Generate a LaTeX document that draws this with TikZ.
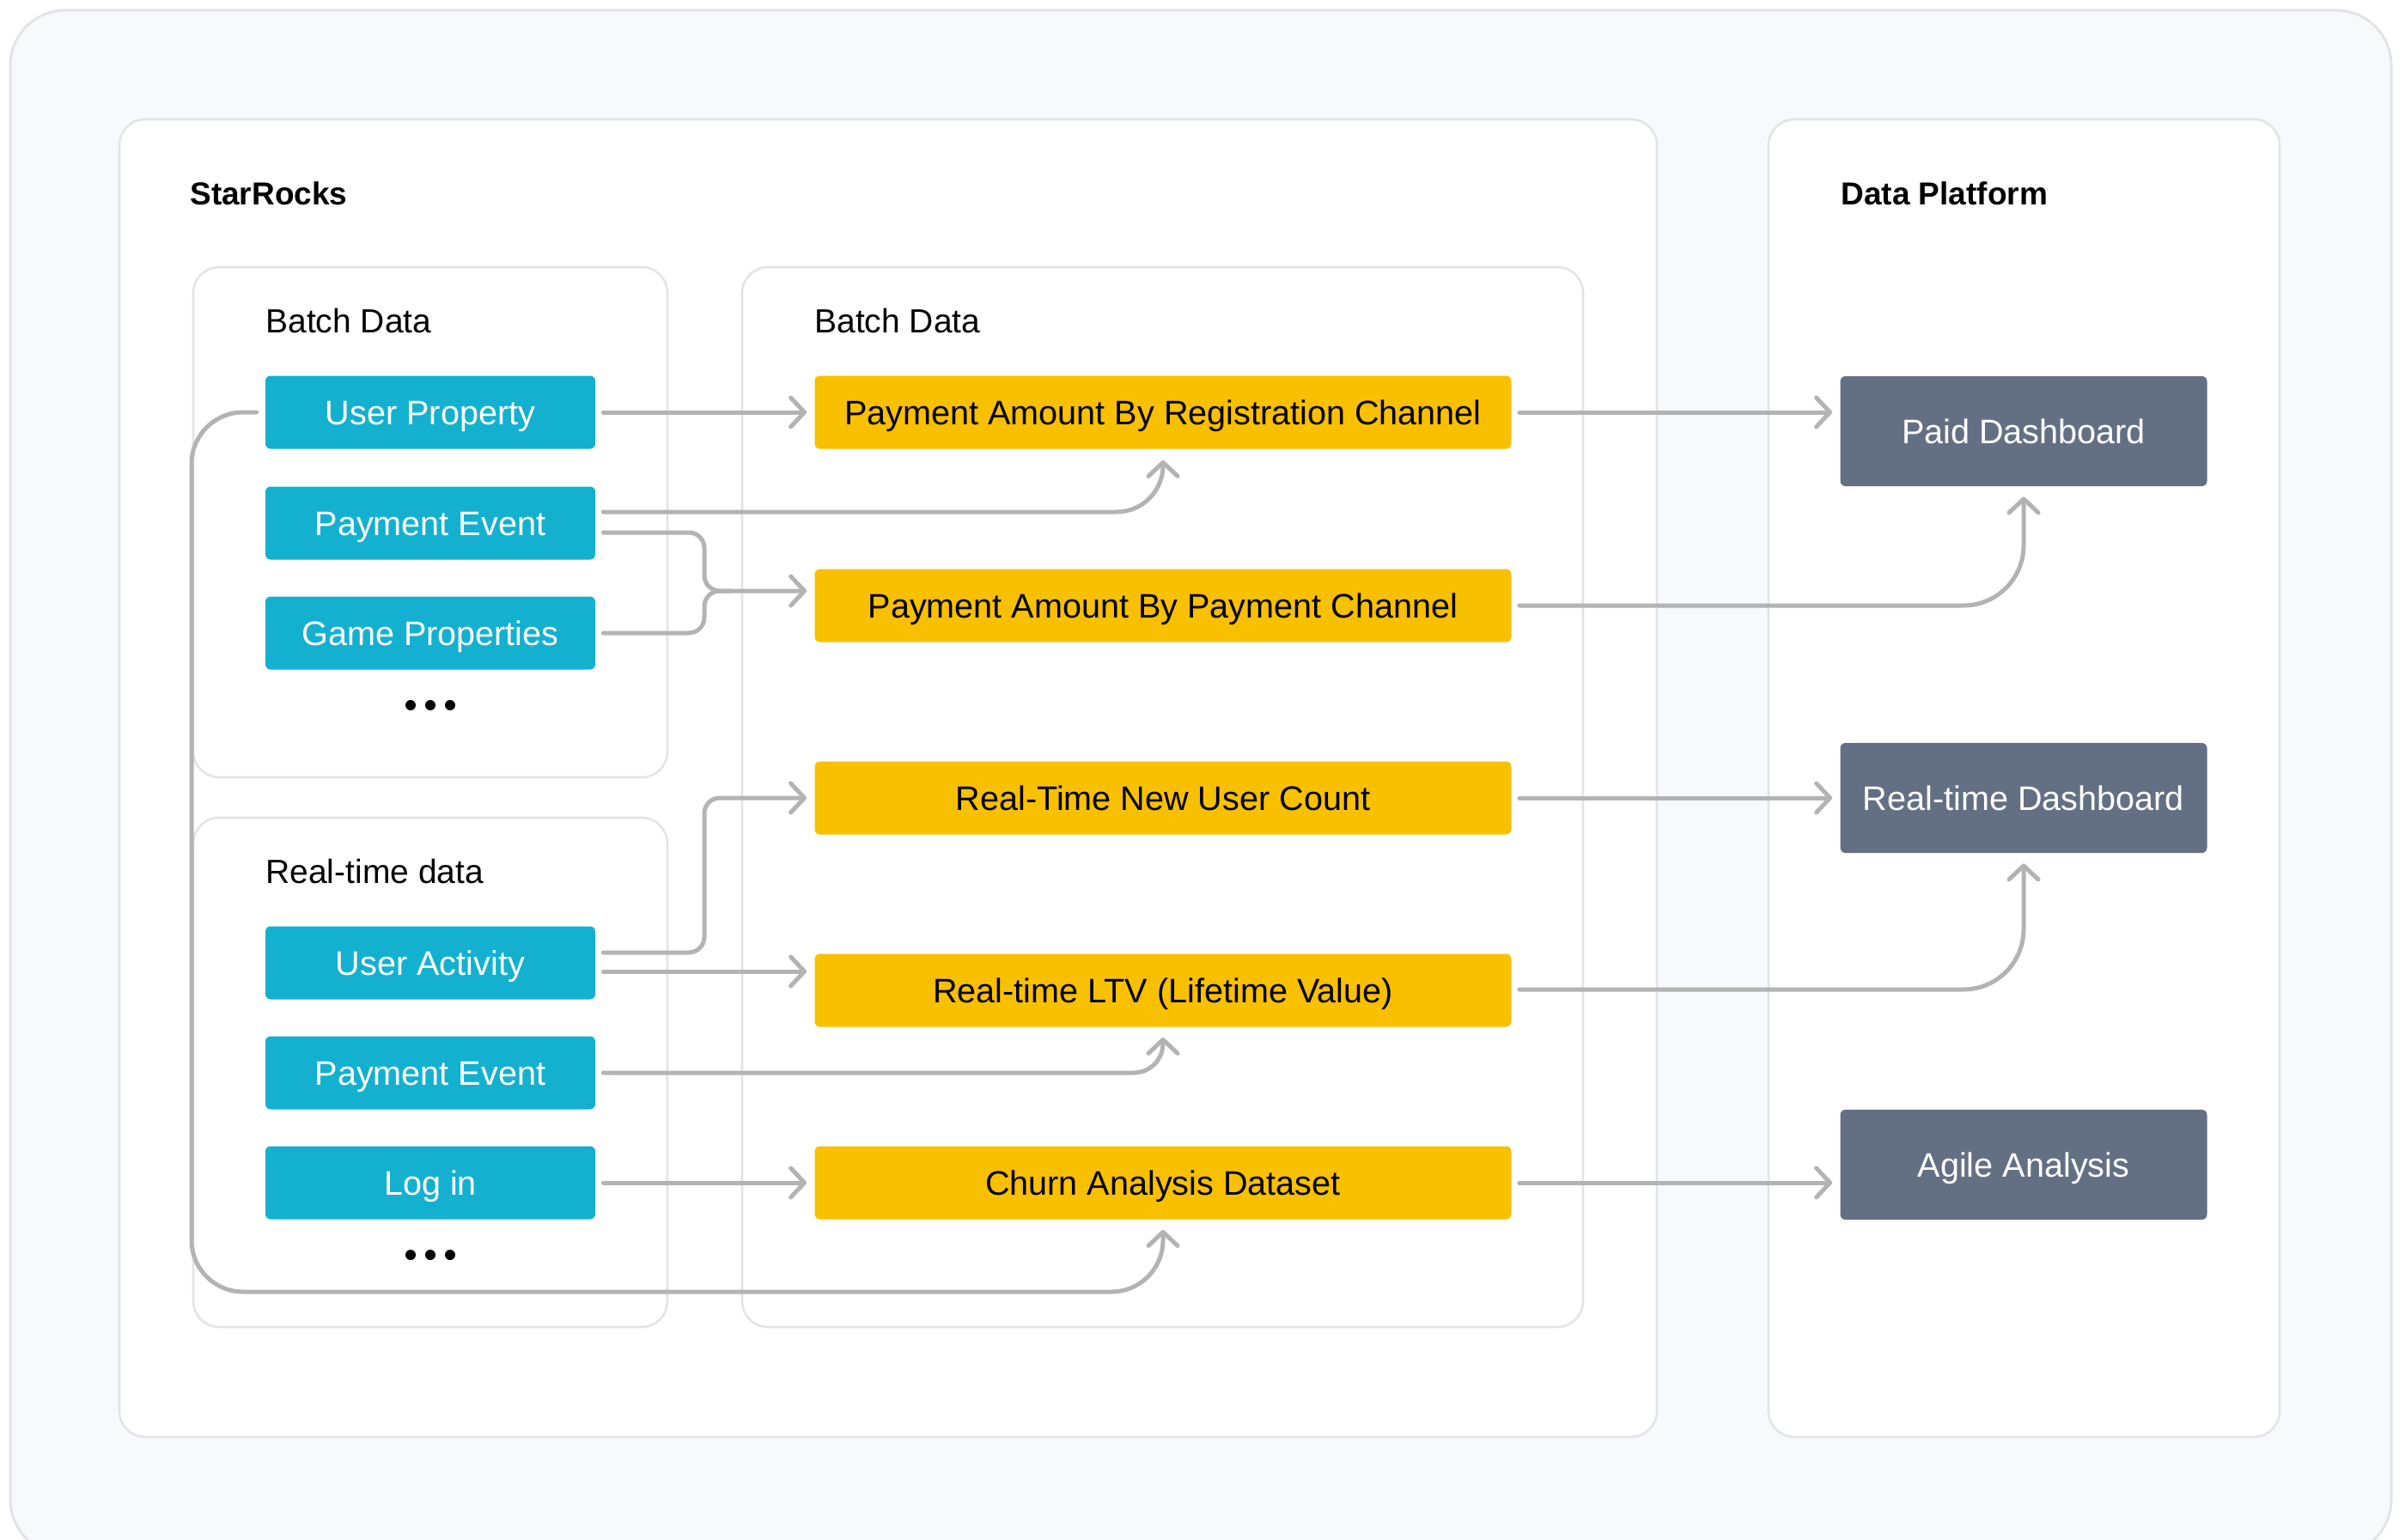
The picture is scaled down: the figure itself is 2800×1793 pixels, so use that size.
\documentclass[tikz,border=0pt]{standalone}
\usepackage{fontspec}
\setmainfont{Liberation Sans}
\usetikzlibrary{arrows.meta,calc}
\definecolor{bgfill}{HTML}{F8F9FB}
\definecolor{bordc}{HTML}{E2E4E7}
\definecolor{srcblue}{HTML}{13B1CF}
\definecolor{dsyellow}{HTML}{F9C000}
\definecolor{slate}{HTML}{637084}
\definecolor{arrc}{HTML}{B3B3B3}
\begin{document}
\begin{tikzpicture}[x=0.5pt,y=-0.5pt,
  container/.style={draw=bordc,line width=1.3pt,fill=white,rounded corners=15pt},
  boxbase/.style={rounded corners=3pt,inner sep=0pt,text height=14pt,text depth=0pt,font=\fontsize{19.8pt}{24pt}\selectfont},
  srcnode/.style={boxbase,fill=srcblue,text=white,minimum width=192pt,minimum height=42.5pt},
  dsnode/.style={boxbase,fill=dsyellow,text=black,minimum width=405.5pt,minimum height=42.5pt},
  outnode/.style={boxbase,fill=slate,text=white,minimum width=213.5pt,minimum height=64pt},
  titletext/.style={anchor=west,inner sep=0pt,text height=13.5pt,text depth=0pt,font=\fontsize{18.5pt}{22pt}\selectfont\bfseries},
  subtext/.style={anchor=west,inner sep=0pt,text height=14pt,text depth=0pt,font=\fontsize{19.5pt}{24pt}\selectfont},
  link/.style={draw=arrc,line width=2.5pt,line cap=round},
  flow/.style={link,-{Straight Barb[length=8pt,width=17pt,line cap=round,line join=round]}}
]
\useasboundingbox (0,0) rectangle (2800,1793);
% background
\draw[draw=bordc,fill=bgfill,line width=1.5pt,rounded corners=32pt] (12,12) rectangle (2784,1810);
% containers
\draw[container] (139,139) rectangle (1929,1673);
\draw[container] (2059,139) rectangle (2654,1673);
\draw[container] (225,311) rectangle (777,905);
\draw[container] (225,952) rectangle (777,1545);
\draw[container] (864,311) rectangle (1843,1545);
% titles
\node[titletext] (t1) at (221,225) {StarRocks};
\node[titletext] (t2) at (2143,225) {Data Platform};
\node[subtext] (s1) at (309,373) {Batch Data};
\node[subtext] (s2) at (309,1014) {Real-time data};
\node[subtext] (s3) at (948,373) {Batch Data};
% source nodes
\node[srcnode] (up) at (501,480) {User Property};
\node[srcnode] (pe1) at (501,609) {Payment Event};
\node[srcnode] (gp) at (501,737) {Game Properties};
\node[srcnode] (ua) at (501,1121) {User Activity};
\node[srcnode] (pe2) at (501,1249) {Payment Event};
\node[srcnode] (li) at (501,1377) {Log in};
% dots
\foreach \dx in {-23,0,23} {
  \fill (501+\dx,821) circle (3pt);
  \fill (501+\dx,1461) circle (3pt);
}
% datasets
\node[dsnode] (rc) at (1354,480) {Payment Amount By Registration Channel};
\node[dsnode] (pc) at (1354,705) {Payment Amount By Payment Channel};
\node[dsnode] (nu) at (1354,929) {Real-Time New User Count};
\node[dsnode] (ltv) at (1354,1153) {Real-time LTV (Lifetime Value)};
\node[dsnode] (ch) at (1354,1377) {Churn Analysis Dataset};
% outputs
\node[outnode] (paid) at (2356,502) {Paid Dashboard};
\node[outnode] (rtd) at (2356,929) {Real-time Dashboard};
\node[outnode] (agile) at (2356,1356) {Agile Analysis};
% junctions
\coordinate (m1) at (820,688);
\coordinate (m2) at (nu.west -| m1);
\coordinate (lp) at (223,1504);
% connectors
\draw[flow] ($(up.east)+(9,0)$) -- ($(rc.west)+(-9,0)$);
\draw[flow,rounded corners=27pt] ($(pe1.east)+(9,-13)$) -| ($(rc.south)+(0,13)$);
\draw[flow,rounded corners=9pt] ($(pe1.east)+(9,11)$) -| (m1) -- ([xshift=-4.5pt]pc.west |- m1);
\draw[link,rounded corners=9pt] ($(gp.east)+(9,0)$) -| (m1) -- ++(30,0);
\draw[flow] ($(rc.east)+(9,0)$) -- ($(rc.east -| paid.west)+(-9,0)$);
\draw[flow,rounded corners=35pt] ($(pc.east)+(9,0)$) -| ($(paid.south)+(0,12)$);
\draw[flow,rounded corners=9pt] ($(ua.east)+(9,-12)$) -| (m2) -- ([xshift=-4.5pt]nu.west);
\draw[flow] ($(ua.east)+(9,10)$) -- ($(ua.east -| ltv.west)+(-9,10)$);
\draw[flow,rounded corners=17pt] ($(pe2.east)+(9,0)$) -| ($(ltv.south)+(0,12)$);
\draw[flow] ($(li.east)+(9,0)$) -- ($(ch.west)+(-9,0)$);
\draw[flow,rounded corners=30pt] ($(up.west)+(-10,0)$) -| (lp) -| ($(ch.south)+(0,12)$);
\draw[flow] ($(nu.east)+(9,0)$) -- ($(rtd.west)+(-9,0)$);
\draw[flow,rounded corners=35pt] ($(ltv.east)+(9,-1)$) -| ($(rtd.south)+(0,12)$);
\draw[flow] ($(ch.east)+(9,0)$) -- ($(ch.east -| agile.west)+(-9,0)$);
\end{tikzpicture}
\end{document}
